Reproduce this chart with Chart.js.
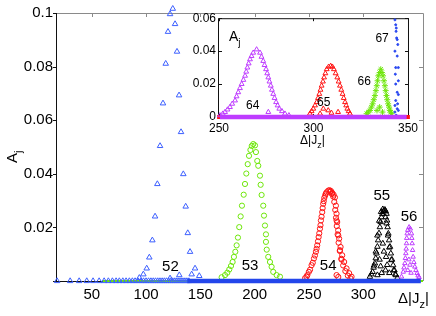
<!DOCTYPE html>
<html>
<head>
<meta charset="utf-8">
<script src="https://cdn.jsdelivr.net/npm/chart.js@4.4.1/dist/chart.umd.min.js"></script>
<style>
  body { margin: 0; background: #fff; }
  #wrap { position: relative; width: 436px; height: 316px; background: #fff; }
  #main { position: absolute; left: 0; top: 0; }
  #inset { position: absolute; left: 186px; top: 8px; }
</style>
</head>
<body>
<div id="wrap">
  <canvas id="main" width="436" height="316"></canvas>
  <canvas id="inset" width="236" height="142"></canvas>
</div>
<script>
// axes
var mainXTicks = [50, 100, 150, 200, 250, 300];
var mainYTicks = [0, 0.02, 0.04, 0.06, 0.08, 0.1];
var mainYLabels = ["", "0.02", "0.04", "0.06", "0.08", "0.1"];
var insetXTicks = [250, 300, 350];
var insetYTicks = [0, 0.02, 0.04, 0.06];
var insetYLabels = ["0", "0.02", "0.04", "0.06"];

// main plot, j = 52 (blue triangles)
var j52X = [93.8, 97.5, 100.6, 103, 105.8, 108.3, 110.4, 112.9, 115.6, 118.1, 120.2, 122.1, 124.6, 126.7, 128.5, 130.4, 132.2, 134.3, 136.5, 138.4, 140.5, 142, 145.1, 149, 130.6, 122.1];
var j52Y = [0.0012, 0.0025, 0.0047, 0.0088, 0.0152, 0.0241, 0.0362, 0.0504, 0.0663, 0.0811, 0.093, 0.0996, 0.1016, 0.0959, 0.0856, 0.0693, 0.0556, 0.0399, 0.0278, 0.0179, 0.0109, 0.0025, 0.0047, 0.0019, 0.0022, 0.001];
// zero-amplitude points along the axis
var base52X = [18.1, 30.1, 38.4, 45.4, 51.2, 56.8, 61.4, 65.3, 69, 72.4, 75.4, 78.6, 81.6, 84.6, 87.4, 89.9, 92.6, 95.4, 97.7, 100, 102.3, 104.5, 106.6, 108.7, 110.8, 112.8, 114.8, 116.8, 118.8, 120.8, 122.7, 124.6, 126.5, 128.4, 130.3, 132.2, 134, 135.8, 137.6, 139.4];
var bandX = [138, 353];
var greenBandX = [60, 355];

// j = 53 (green circles)
var j53X = [169.6, 172.7, 174.8, 176.6, 178.2, 179.7, 180.9, 182.2, 183.4, 184.6, 185.8, 187.1, 188.3, 189.9, 191.1, 192.3, 193.6, 194.8, 196.1, 197.3, 198.7, 200.3, 201.2, 202.4, 203.3, 204.9, 205.5, 206.4, 207.9, 208.6, 209.5, 210.4, 210.4, 211.1, 212.5, 214.1, 215.6, 217.1, 220.2, 223.3];
var j53Y = [0.0014, 0.0022, 0.0031, 0.0043, 0.0056, 0.0071, 0.009, 0.0109, 0.0133, 0.0162, 0.0201, 0.0241, 0.0281, 0.0322, 0.0362, 0.0401, 0.0436, 0.0467, 0.0489, 0.0504, 0.0511, 0.0506, 0.0481, 0.0448, 0.043, 0.0393, 0.0359, 0.0321, 0.0281, 0.0244, 0.0207, 0.0174, 0.0146, 0.0117, 0.009, 0.0071, 0.0053, 0.0034, 0.0022, 0.0016];

// j = 54 (red circles), outer and inner track
var j54X = [246.5, 247.8, 249.9, 252.4, 254.6, 256.4, 257.6, 258.9, 260.1, 261, 262.2, 263.1, 264.1, 264.9, 266.2, 267.7, 268.9, 270.2, 271.4, 272.7, 273.9, 274.8, 275.4, 276, 276.9, 277.8, 279.1, 280.6, 282.4, 284.6, 287, 289.2, 275.4, 277, 278.5, 280, 275.4, 277,
  248.5, 251, 253.5, 255.5, 257, 258.3, 259.5, 260.6, 261.6, 262.6, 263.6, 265.5, 269.6, 271, 272.3, 273.3, 274.2, 274.9, 275.6, 276.4, 277.3, 278.4, 279.8, 281.5, 283.5, 285.8, 288.2];
var j54Y = [0.0011, 0.0016, 0.0034, 0.0059, 0.0084, 0.0109, 0.0133, 0.0164, 0.0195, 0.0226, 0.0257, 0.0288, 0.031, 0.0319, 0.0331, 0.0337, 0.0339, 0.0336, 0.0329, 0.0322, 0.0312, 0.0281, 0.0251, 0.022, 0.0189, 0.0158, 0.0127, 0.0096, 0.0071, 0.0047, 0.0029, 0.0016, 0.0226, 0.017, 0.0115, 0.008, 0.0022, 0.0015,
  0.0022, 0.0042, 0.0068, 0.0095, 0.012, 0.0148, 0.0178, 0.0208, 0.024, 0.0272, 0.0298, 0.0326, 0.0333, 0.0325, 0.0315, 0.0295, 0.0265, 0.0236, 0.0205, 0.0174, 0.0143, 0.0112, 0.0083, 0.0058, 0.0037, 0.002, 0.001];

// j = 55 (black triangles)
var j55X = [306.1, 308.6, 310.7, 312.2, 313.7, 315.3, 316.8, 318.5, 319.9, 321.4, 322.4, 323.8, 325.4, 327.5, 330, 309.5, 311.5, 313, 314.5, 316, 317.5, 320.7, 321.9, 323.1, 324.6, 326.4, 328.7, 331.5, 313, 316, 319, 320.5, 324,
  307.4, 309.9, 311.5, 313, 314.7, 316.4, 318, 319.2, 320.5, 321.5, 322.8, 324, 325.8, 328, 329.5, 315, 318, 321, 317, 322];
var j55Y = [0.0016, 0.0034, 0.0066, 0.0103, 0.0152, 0.0201, 0.0238, 0.026, 0.0266, 0.0251, 0.0201, 0.0152, 0.0103, 0.0059, 0.0022, 0.005, 0.0085, 0.0128, 0.0178, 0.022, 0.025, 0.026, 0.0226, 0.0177, 0.0128, 0.008, 0.004, 0.0012, 0.0022, 0.0055, 0.011, 0.004, 0.003,
  0.0025, 0.0058, 0.011, 0.017, 0.0225, 0.0258, 0.0268, 0.0262, 0.0238, 0.0215, 0.017, 0.0125, 0.0078, 0.004, 0.0025, 0.008, 0.014, 0.009, 0.003, 0.006];

// j = 56 (purple triangles)
var j56X = [335.2, 336.8, 338.3, 339.2, 339.8, 340.4, 342.2, 344.4, 345, 345.9, 347.5, 349.6, 351.4, 337.5, 338.8, 339.5, 340, 341, 343.3, 344.7, 345.4, 346.6, 348.5, 350.5, 341, 342, 343, 344];
var j56Y = [0.0016, 0.0034, 0.0066, 0.0103, 0.014, 0.0177, 0.0201, 0.0177, 0.014, 0.009, 0.0053, 0.0029, 0.0014, 0.005, 0.0085, 0.012, 0.016, 0.019, 0.0195, 0.016, 0.0115, 0.007, 0.004, 0.002, 0.004, 0.008, 0.006, 0.003];

// inset, j = 64 (purple triangles)
var j64X = [250.5, 253.2, 255.8, 258.5, 260.2, 262, 263.8, 265, 266.4, 268.1, 269.9, 271.7, 273.4, 274.9, 276.1, 277.4, 278.7, 280.2, 281.9, 284.9, 252, 254.5, 257, 259.3, 261.1, 262.9, 264.4, 265.7, 267.2, 272.5, 274.1, 275.5, 276.7, 278, 279.4, 281, 283.3, 287, 276.1];
var j64Y = [0.001, 0.003, 0.006, 0.01, 0.015, 0.02, 0.025, 0.03, 0.035, 0.039, 0.041, 0.039, 0.034, 0.029, 0.024, 0.019, 0.014, 0.009, 0.005, 0.002, 0.002, 0.0045, 0.008, 0.0125, 0.0175, 0.0225, 0.0275, 0.0325, 0.037, 0.0365, 0.0315, 0.0265, 0.0215, 0.0165, 0.0115, 0.007, 0.0035, 0.001, 0.003];

// inset, j = 65 (red triangles)
var j65X = [298.1, 299.9, 301.7, 303.1, 304.3, 305.6, 307, 309.1, 310.8, 312.6, 314, 315.4, 316.7, 317.9, 319.3, 299, 300.8, 302.4, 303.7, 305, 306.3, 308, 310, 311.7, 313.3, 314.7, 316, 317.3, 318.6, 305.2, 307.8, 313, 303.5, 309.5];
var j65Y = [0.002, 0.005, 0.009, 0.014, 0.019, 0.024, 0.029, 0.031, 0.029, 0.024, 0.019, 0.014, 0.009, 0.005, 0.002, 0.0035, 0.007, 0.0115, 0.0165, 0.0215, 0.0265, 0.0305, 0.0305, 0.0265, 0.0215, 0.0165, 0.0115, 0.007, 0.0035, 0.005, 0.004, 0.003, 0.002, 0.0025];

// inset, j = 66 (green stars)
var j66X = [328.1, 329.9, 331.3, 332.5, 333.5, 334.3, 335.6, 336.8, 337.8, 338.6, 339.5, 340.4, 341.3, 329, 330.6, 331.9, 333, 333.9, 335, 336.2, 337.3, 338.2, 339, 340, 340.9, 333.6, 336.5, 335];
var j66Y = [0.002, 0.004, 0.008, 0.013, 0.019, 0.025, 0.029, 0.025, 0.019, 0.013, 0.008, 0.004, 0.002, 0.003, 0.006, 0.0105, 0.016, 0.022, 0.027, 0.027, 0.022, 0.016, 0.0105, 0.006, 0.003, 0.004, 0.003, 0.006];

// inset, j = 67 (blue dots)
var j67X = [343.1, 343.5, 343.7, 344, 344.3, 343.1, 344.3, 343.5, 344.9, 344.9, 343.5, 344.3, 344.9, 343.5, 343.1, 344.3, 343.1, 344.9, 343.8, 344.5, 343.3, 344.6, 343.8];
var j67Y = [0.059, 0.056, 0.052, 0.048, 0.047, 0.04, 0.037, 0.03, 0.03, 0.022, 0.02, 0.015, 0.0136, 0.01, 0.007, 0.005, 0.003, 0.004, 0.001, 0.008, 0.026, 0.044, 0.054];
var insetMagBandX = [250.5, 349.3];
var insetRedBandX = [249, 351];

var FONT = "'Liberation Sans', Arial, Helvetica, sans-serif";
Chart.defaults.font.family = FONT;
Chart.defaults.color = "#000";

function pts(xs, ys) {
  return xs.map(function (x, i) { return { x: x, y: ys[i] }; });
}
function flat(xs) {
  return xs.map(function (x) { return { x: x, y: 0 }; });
}
function marks(data, style, color, r, fill) {
  return {
    type: "scatter", data: data, pointStyle: style, pointRadius: r,
    borderColor: color, backgroundColor: fill || "rgba(0,0,0,0)",
    pointBorderWidth: 1, clip: false
  };
}
function band(data, color, w) {
  return {
    type: "line", data: data, borderColor: color, borderWidth: w,
    pointRadius: 0, clip: false
  };
}

// text with a subscript, e.g. A_j or Δ|J_z|
function drawSub(ctx, x, y, main, sub, tail, size) {
  ctx.font = size + "px " + FONT;
  ctx.fillText(main, x, y);
  var w = ctx.measureText(main).width;
  ctx.font = Math.round(size * 0.72) + "px " + FONT;
  ctx.fillText(sub, x + w, y + size * 0.3);
  var w2 = ctx.measureText(sub).width;
  if (tail) {
    ctx.font = size + "px " + FONT;
    ctx.fillText(tail, x + w + w2, y);
  }
}

function tickScale(ticks) {
  return function (s) { s.ticks = ticks.map(function (v) { return { value: v }; }); };
}

var BLUE = "rgb(60,95,255)";
var GREEN = "rgb(110,230,10)";
var RED = "rgb(255,20,20)";
var PURPLE = "rgb(190,60,255)";

// ---------- main chart ----------
var mainSets = [
  marks(pts(j52X, j52Y), "triangle", BLUE, 3.2),
  band(flat(bandX), "rgb(35,70,235)", 4.5),
  marks(flat(base52X), "triangle", BLUE, 3.2),
  marks(pts(j56X, j56Y), "triangle", PURPLE, 2.6),
  marks(pts(j55X, j55Y), "triangle", "#000", 3.2),
  marks(pts(j54X, j54Y), "circle", RED, 2.6),
  marks(pts(j53X, j53Y), "circle", GREEN, 2.6),
  band(flat(greenBandX), GREEN, 2)
];

var mainDecor = {
  id: "mainDecor",
  beforeDatasetsDraw: function (chart) {
    var ctx = chart.ctx, a = chart.chartArea;
    var sx = chart.scales.x, sy = chart.scales.y;
    ctx.save();
    ctx.lineWidth = 1;
    // top and right in grey
    ctx.strokeStyle = "#8a8a8a";
    ctx.beginPath();
    ctx.moveTo(a.left, a.top + 0.5);
    ctx.lineTo(a.right + 0.5, a.top + 0.5);
    ctx.lineTo(a.right + 0.5, a.bottom);
    mainXTicks.forEach(function (v) {
      var p = Math.round(sx.getPixelForValue(v)) + 0.5;
      ctx.moveTo(p, a.top);
      ctx.lineTo(p, a.top + 4);
    });
    mainYTicks.forEach(function (v) {
      var p = Math.round(sy.getPixelForValue(v)) + 0.5;
      ctx.moveTo(a.right, p);
      ctx.lineTo(a.right - 4, p);
    });
    ctx.stroke();
    // left and bottom in black
    ctx.strokeStyle = "#111";
    ctx.beginPath();
    ctx.moveTo(a.left - 0.5, a.top);
    ctx.lineTo(a.left - 0.5, a.bottom + 0.5);
    ctx.lineTo(a.right, a.bottom + 0.5);
    mainYTicks.forEach(function (v) {
      var p = Math.round(sy.getPixelForValue(v)) + 0.5;
      ctx.moveTo(a.left, p);
      ctx.lineTo(a.left - 4, p);
    });
    ctx.stroke();
    ctx.restore();
  },
  afterDraw: function (chart) {
    var ctx = chart.ctx, a = chart.chartArea;
    var sx = chart.scales.x, sy = chart.scales.y;
    ctx.save();
    ctx.fillStyle = "#000";
    ctx.textAlign = "center";
    ctx.textBaseline = "alphabetic";
    ctx.font = "15px " + FONT;
    var notes = [["52", 122.4, 0.0056], ["53", 195.7, 0.0061], ["54", 267.7, 0.0062], ["55", 317.1, 0.0322], ["56", 342.2, 0.0243]];
    notes.forEach(function (n) {
      ctx.fillText(n[0], sx.getPixelForValue(n[1]), sy.getPixelForValue(n[2]) + 5.5);
    });
    ctx.textAlign = "left";
    drawSub(ctx, a.right - 25, a.bottom + 22, "\u0394|J", "z", "|", 15);
    // rotated y label
    ctx.translate(17, 163);
    ctx.rotate(-Math.PI / 2);
    drawSub(ctx, 0, 0, "A", "j", "", 15);
    ctx.restore();
  }
};

new Chart(document.getElementById("main"), {
  type: "scatter",
  data: { datasets: mainSets },
  options: {
    responsive: false,
    animation: false,
    events: [],
    layout: { padding: { left: 0, top: 10, right: 13, bottom: 0 } },
    plugins: { legend: { display: false }, tooltip: { enabled: false } },
    scales: {
      x: {
        type: "linear", min: 18, max: 355,
        grid: { display: false, drawTicks: false },
        border: { display: false },
        afterBuildTicks: tickScale(mainXTicks),
        afterFit: function (s) { s.height = 35; },
        ticks: { font: { size: 15 }, color: "#000", padding: 5, maxRotation: 0, autoSkip: false }
      },
      y: {
        type: "linear", min: 0, max: 0.1,
        grid: { display: false, drawTicks: false },
        border: { display: false },
        afterBuildTicks: tickScale(mainYTicks),
        afterFit: function (s) { s.width = 57; },
        ticks: {
          font: { size: 15 }, color: "#000", padding: 4, autoSkip: false,
          callback: function (v, i) { return mainYLabels[i]; }
        }
      }
    }
  },
  plugins: [mainDecor]
});

// ---------- inset ----------
var insetSets = [
  band(flat(insetMagBandX), PURPLE, 4.5),
  marks(pts(j67X, j67Y), "circle", "rgb(40,70,240)", 1, "rgb(40,70,240)"),
  marks(pts(j64X, j64Y), "triangle", PURPLE, 2.8),
  marks(pts(j66X, j66Y), "star", GREEN, 3),
  marks(pts(j65X, j65Y), "triangle", RED, 2.8),
  band(flat(insetRedBandX), RED, 4)
];

var insetDecor = {
  id: "insetDecor",
  beforeDatasetsDraw: function (chart) {
    var ctx = chart.ctx, a = chart.chartArea;
    var sx = chart.scales.x, sy = chart.scales.y;
    ctx.save();
    ctx.lineWidth = 1;
    ctx.strokeStyle = "#111";
    ctx.strokeRect(a.left - 0.5, a.top + 0.5, a.right - a.left + 1, a.bottom - a.top);
    ctx.beginPath();
    insetXTicks.forEach(function (v) {
      var p = Math.round(sx.getPixelForValue(v)) + 0.5;
      ctx.moveTo(p, a.top);
      ctx.lineTo(p, a.top + 3);
      ctx.moveTo(p, a.bottom);
      ctx.lineTo(p, a.bottom - 3);
    });
    insetYTicks.forEach(function (v) {
      var p = Math.round(sy.getPixelForValue(v)) + 0.5;
      ctx.moveTo(a.left, p);
      ctx.lineTo(a.left + 3, p);
      ctx.moveTo(a.right, p);
      ctx.lineTo(a.right - 3, p);
    });
    ctx.stroke();
    ctx.restore();
  },
  afterDraw: function (chart) {
    var ctx = chart.ctx;
    var sx = chart.scales.x, sy = chart.scales.y;
    ctx.save();
    ctx.fillStyle = "#000";
    ctx.textAlign = "center";
    ctx.font = "12px " + FONT;
    var notes = [["64", 267.8, 0.0076], ["65", 305.4, 0.0094], ["66", 326.8, 0.022], ["67", 336.3, 0.0482]];
    notes.forEach(function (n) {
      ctx.fillText(n[0], sx.getPixelForValue(n[1]), sy.getPixelForValue(n[2]) + 4.3);
    });
    ctx.textAlign = "left";
    drawSub(ctx, sx.getPixelForValue(255.3), sy.getPixelForValue(0.049) + 5, "A", "j", "", 14);
    drawSub(ctx, 114, 136, "\u0394|J", "z", "|", 12);
    ctx.restore();
  }
};

new Chart(document.getElementById("inset"), {
  type: "scatter",
  data: { datasets: insetSets },
  options: {
    responsive: false,
    animation: false,
    events: [],
    layout: { padding: { left: 0, top: 9, right: 14, bottom: 0 } },
    plugins: { legend: { display: false }, tooltip: { enabled: false } },
    scales: {
      x: {
        type: "linear", min: 250, max: 350,
        grid: { display: false, drawTicks: false },
        border: { display: false },
        afterBuildTicks: tickScale(insetXTicks),
        afterFit: function (s) { s.height = 33; },
        ticks: { font: { size: 12 }, color: "#000", padding: 4, maxRotation: 0, autoSkip: false }
      },
      y: {
        type: "linear", min: 0, max: 0.06,
        grid: { display: false, drawTicks: false },
        border: { display: false },
        afterBuildTicks: tickScale(insetYTicks),
        afterFit: function (s) { s.width = 33; },
        ticks: {
          font: { size: 12 }, color: "#000", padding: 3, autoSkip: false,
          callback: function (v, i) { return insetYLabels[i]; }
        }
      }
    }
  },
  plugins: [insetDecor]
});
</script>
</body>
</html>
